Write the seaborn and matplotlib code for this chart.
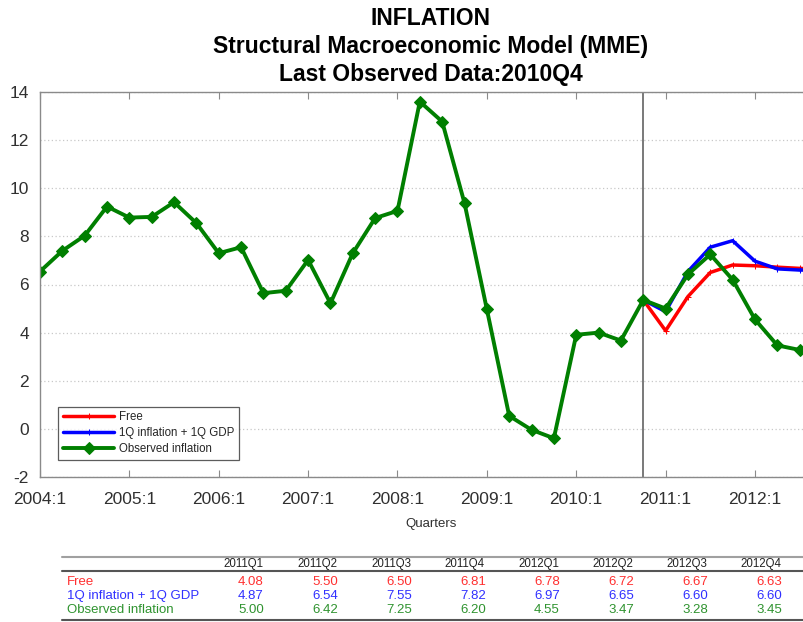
import numpy as np
import pandas as pd
import matplotlib
matplotlib.use("Agg")
import matplotlib.pyplot as plt
import seaborn as sns
from matplotlib.lines import Line2D

# observed inflation, 2004Q1 .. 2012Q4
observed = [6.54, 7.40, 8.03, 9.24, 8.78, 8.81, 9.42, 8.55, 7.30, 7.55,
            5.64, 5.74, 7.02, 5.22, 7.30, 8.76, 9.06, 13.60, 12.77, 9.38,
            4.97, 0.54, -0.04, -0.39, 3.91, 4.00, 3.67, 5.36,
            5.00, 6.42, 7.25, 6.20, 4.55, 3.47, 3.28, 3.45]
last_obs_idx = 27  # 2010Q4

# forecasts 2011Q1 .. 2012Q4
fc_quarters = ["2011Q1", "2011Q2", "2011Q3", "2011Q4",
               "2012Q1", "2012Q2", "2012Q3", "2012Q4"]
free = [4.08, 5.50, 6.50, 6.81, 6.78, 6.72, 6.67, 6.63]
cond = [4.87, 6.54, 7.55, 7.82, 6.97, 6.65, 6.60, 6.60]
obs_fc = [5.00, 6.42, 7.25, 6.20, 4.55, 3.47, 3.28, 3.45]

year_labels = ["2004:1", "2005:1", "2006:1", "2007:1", "2008:1",
               "2009:1", "2010:1", "2011:1", "2012:1"]
names = ["Free", "1Q inflation + 1Q GDP", "Observed inflation"]

sns.set_style("white")
plt.rcParams["font.family"] = ["Liberation Sans", "DejaVu Sans"]
plt.rcParams["axes.unicode_minus"] = False

W, H = 804, 622
fig = plt.figure(figsize=(W / 100, H / 100), dpi=100)
ax = fig.add_axes([40 / W, 145 / H, 782 / W, 385 / H])

x_all = np.arange(len(observed))
x_fc = np.arange(last_obs_idx, last_obs_idx + len(free) + 1)
start = observed[last_obs_idx]

sns.lineplot(x=x_fc, y=[start] + free, ax=ax, color="#ff0000", lw=2.5,
             marker="+", ms=4, mec="#ff0000", label=names[0])
sns.lineplot(x=x_fc, y=[start] + cond, ax=ax, color="#0000ff", lw=2.5,
             marker="+", ms=4, mec="#0000ff", label=names[1])
sns.lineplot(x=x_all, y=observed, ax=ax, color="#007f00", lw=2.8,
             marker="D", ms=6, mec="#007f00", label=names[2])

ax.axvline(last_obs_idx, color="#6e6e6e", lw=1.3, zorder=1)

ax.set_xlim(0, 35)
ax.set_ylim(-2, 14)
ax.set_yticks(range(-2, 15, 2))
ax.set_xticks(range(0, 36, 4))
ax.set_xticklabels(year_labels)
ax.tick_params(axis="both", direction="in", labelsize=12.5, colors="#8a8a8a",
               labelcolor="#303030", length=5, top=True, bottom=True, left=False)
ax.tick_params(axis="x", pad=11)
ax.tick_params(axis="y", pad=8)
ax.yaxis.grid(True, ls=(0, (1, 2)), color="#c8c8c8", lw=0.9)
for s in ax.spines.values():
    s.set_color("#8a8a8a")
    s.set_linewidth(1.0)
ax.set_xlabel("Quarters", fontsize=9.5, color="#303030", labelpad=8)
ax.set_ylabel("")

ax.set_title("INFLATION\nStructural Macroeconomic Model (MME)\nLast Observed Data:2010Q4",
             fontsize=16.5, fontweight="bold", linespacing=1.27, pad=8, color="black")

leg = ax.legend(loc="lower left", bbox_to_anchor=(0.023, 0.044), borderaxespad=0,
                fontsize=8.3, handlelength=4.5, numpoints=1, frameon=True,
                fancybox=False, edgecolor="#333333", borderpad=0.4,
                labelspacing=0.35, handletextpad=0.4)
leg.get_frame().set_linewidth(0.9)

# table under the chart
def px(x, y):
    return x / W, 1 - y / H

fig.add_artist(Line2D([62 / W, 1], [1 - 557 / H] * 2, color="#a0a0a0", lw=1.5))
fig.add_artist(Line2D([62 / W, 1], [1 - 571 / H] * 2, color="#555555", lw=1.5))
fig.add_artist(Line2D([62 / W, 1], [1 - 620 / H] * 2, color="#555555", lw=1.5))

col_x = [251, 325, 399, 473, 547, 621, 695, 769]
for cx, q in zip(col_x, fc_quarters):
    fig.text(*px(cx - 8, 564), q, fontsize=8.3, ha="center", va="center", color="#222222")

rows = [(free, "#ff3030"), (cond, "#3030ff"), (obs_fc, "#2f932f")]
row_y = [582, 596, 610]
for (vals, c), name, ry in zip(rows, names, row_y):
    fig.text(*px(67, ry), name, fontsize=9.5, ha="left", va="center", color=c)
    for cx, v in zip(col_x, vals):
        fig.text(*px(cx, ry), f"{v:.2f}", fontsize=9.5, ha="center", va="center", color=c)

fig.savefig("out.png", dpi=100)
